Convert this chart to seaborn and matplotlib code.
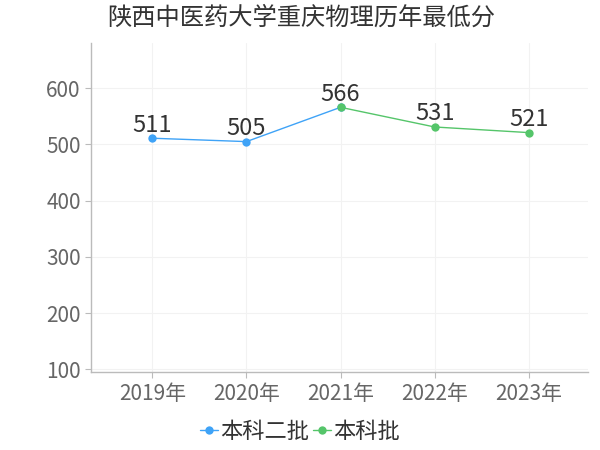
import pandas as pd
import numpy as np
import matplotlib
matplotlib.use('Agg')
import matplotlib.pyplot as plt
import seaborn as sns

# Data
years = ['2019年', '2020年', '2021年', '2022年', '2023年']
batch_labels = ['本科二批', '本科批']
scores_2nd = [511, 505, 566]      # 2019-2021
scores_1st = [566, 531, 521]      # 2021-2023
years_2nd = years[:3]
years_1st = years[2:]

df = pd.DataFrame({
    'year': years_2nd + years_1st,
    'score': scores_2nd + scores_1st,
    'batch': [batch_labels[0]] * 3 + [batch_labels[1]] * 3,
})
df['x'] = df['year'].map({y: i for i, y in enumerate(years)})

sns.set_theme(style='white')
plt.rcParams['font.family'] = ['Noto Sans CJK SC', 'DejaVu Sans']

colors = {'本科二批': '#3fa3f7', '本科批': '#55c56a'}

fig = plt.figure(figsize=(6, 4.5), dpi=100)
ax = fig.add_axes([0.152, 0.173, 0.828, 0.731])

sns.lineplot(data=df, x='x', y='score', hue='batch', palette=colors,
             marker='o', markersize=6, markeredgewidth=0, linewidth=1,
             ax=ax)

# value labels
for _, r in df.drop_duplicates('x').iterrows():
    ax.text(r['x'], r['score'] + 3, str(r['score']), ha='center', va='bottom',
            fontsize=17, color='#333333')

ax.set_xlim(-0.65, 4.63)
ax.set_ylim(95, 680)
ax.set_xticks(range(len(years)))
ax.set_xticklabels(years)
ax.set_yticks([100, 200, 300, 400, 500, 600])
ax.set_xlabel('')
ax.set_ylabel('')
ax.tick_params(axis='both', labelsize=15, colors='#666666', length=4, width=0.8)
ax.tick_params(axis='x', pad=4)
ax.tick_params(axis='x', bottom=True, color='#bbbbbb')
ax.tick_params(axis='y', left=True, color='#bbbbbb')
ax.grid(True, color='#f2f2f2', linewidth=0.8)

for side in ['top', 'right']:
    ax.spines[side].set_visible(False)
for side in ['left', 'bottom']:
    ax.spines[side].set_color('#bbbbbb')
    ax.spines[side].set_linewidth(1)

leg = ax.legend(loc='center', bbox_to_anchor=(0.42, -0.18), ncol=2,
                frameon=False, fontsize=16, handlelength=0.8, handletextpad=0.1,
                columnspacing=0.2, borderpad=0)
for t in leg.get_texts():
    t.set_color('#333333')

fig.text(0.178, 0.96, '陕西中医药大学重庆物理历年最低分', fontsize=17.5,
         color='#333333', ha='left', va='center')

fig.savefig('out.png', dpi=100)
